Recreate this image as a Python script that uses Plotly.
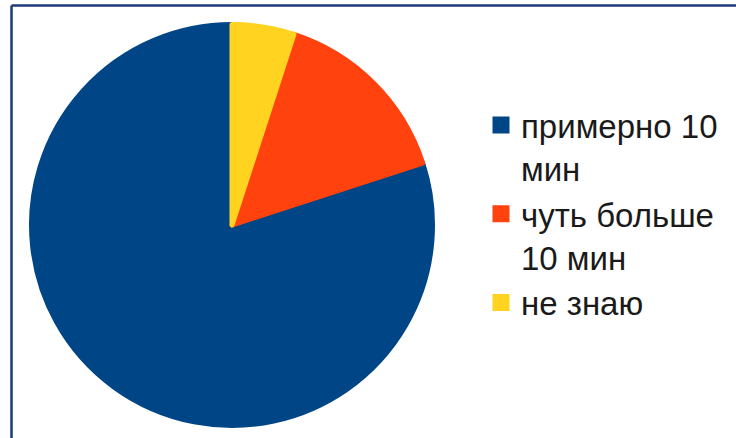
import plotly.graph_objects as go

labels = ["примерно 10<br>мин", "чуть больше<br>10 мин", "не знаю"]
values = [80, 15, 5]
colors = ["#004586", "#ff420e", "#ffd320"]

W, H = 736, 438
lw = 5  # slice outline in slice colour (also enlarges legend squares)

# pie circle in pixels: centre (232, 225), radius 203
cx, cy, r = 232, 225, 203 - lw / 2
fig = go.Figure(go.Pie(
    labels=labels,
    values=values,
    sort=False,
    direction="counterclockwise",
    rotation=72,
    marker=dict(colors=colors, line=dict(width=lw, color=colors)),
    textinfo="none",
    hoverinfo="label+percent",
    domain=dict(x=[(cx - r) / W, (cx + r) / W], y=[1 - (cy + r) / H, 1 - (cy - r) / H]),
))

fig.update_layout(
    width=W, height=H,
    margin=dict(l=0, r=0, t=0, b=0),
    paper_bgcolor="white",
    plot_bgcolor="white",
    showlegend=True,
    legend=dict(
        x=481 / W, y=1 - 97 / H, xanchor="left", yanchor="top",
        font=dict(family="Liberation Sans, Arial, sans-serif", size=33, color="#1a1a1a"),
        valign="top",
        itemwidth=30,
        tracegroupgap=0,
    ),
    shapes=[
        dict(type="line", xref="paper", yref="paper", x0=11.5 / W, x1=1.0, y0=1 - 5.5 / H, y1=1 - 5.5 / H,
             line=dict(color="#1f3a7a", width=2.5)),
        dict(type="line", xref="paper", yref="paper", x0=11.5 / W, x1=11.5 / W, y0=0.0, y1=1 - 5.5 / H,
             line=dict(color="#1f3a7a", width=2.5)),
    ],
)

fig.write_html("out.html", config={"displayModeBar": False},
               post_script="document.body.style.margin='0px';")
